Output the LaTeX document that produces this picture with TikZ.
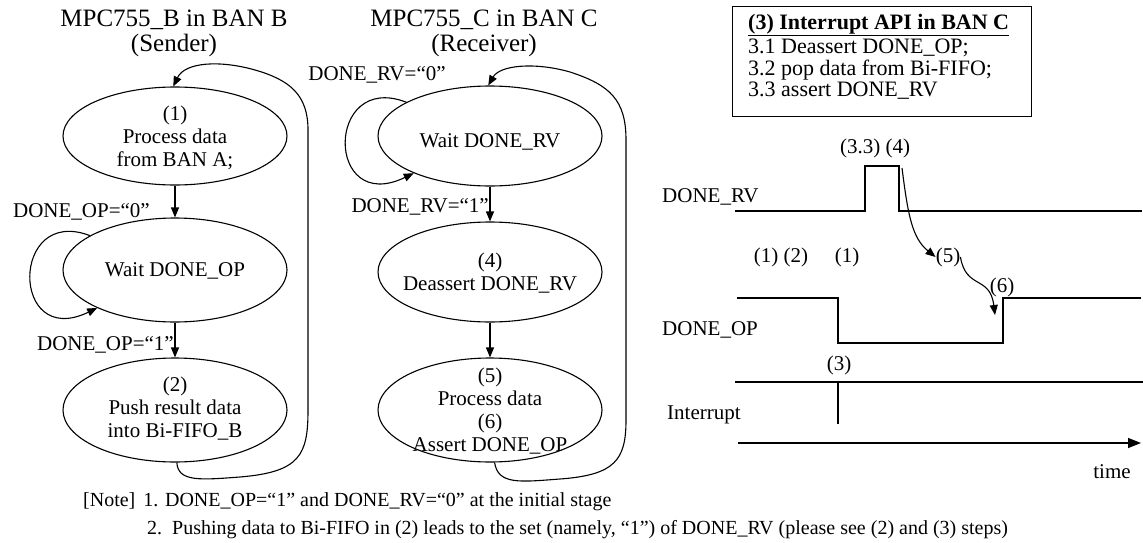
\documentclass[tikz,border=0pt]{standalone}
\usepackage{fontspec}
\setmainfont{Liberation Serif}
\usetikzlibrary{shapes.geometric,arrows.meta}
\begin{document}
\begin{tikzpicture}[x=1pt,y=-1pt,
  ell/.style={draw, ellipse, line width=1.1pt, minimum width=224pt, minimum height=100pt, inner sep=0pt},
  txt/.style={align=center, inner sep=0pt, font=\fontsize{21}{23}\selectfont},
  lbl/.style={inner sep=0pt, font=\fontsize{21}{23}\selectfont},
  ttl/.style={align=center, inner sep=0pt, font=\fontsize{25}{25}\selectfont},
  note/.style={inner sep=0pt, anchor=west, font=\fontsize{20}{22}\selectfont},
  arr/.style={line width=1.1pt, -{Triangle[length=10pt,width=8pt]}},
  wave/.style={line width=1.4pt},
]
\useasboundingbox (0,0) rectangle (1143,543);

% titles
\node[ttl] (title1) at (174,33) {MPC755\_B in BAN B\\(Sender)};
\node[ttl] (title2) at (484,33) {MPC755\_C in BAN C\\(Receiver)};

% sender states
\node[ell, minimum height=98pt] (e1) at (175,136) {};
\node[ell, minimum height=104pt] (e2) at (175,270) {};
\node[ell, minimum height=104pt] (e3) at (175,410) {};
\node[txt] (t1) at (175,138) {(1)\\Process data\\from BAN A;};
\node[txt] (t2) at (175,271) {Wait DONE\_OP};
\node[txt] (t3) at (175,409) {(2)\\Push result data\\into Bi-FIFO\_B};

% receiver states
\node[ell] (f1) at (490,136) {};
\node[ell] (f2) at (490,272) {};
\node[ell, minimum height=104pt] (f3) at (490,410) {};
\node[txt] (u1) at (490,142) {Wait DONE\_RV};
\node[txt] (u2) at (490,273) {(4)\\Deassert DONE\_RV};
\node[txt] (u3) at (490,411) {(5)\\Process data\\(6)\\Assert DONE\_OP};

% straight transitions
\draw[arr] (e1.south) -- (e2.north);
\draw[arr] (e2.south) -- (e3.north);
\draw[arr] (f1.south) -- (f2.north);
\draw[arr] (f2.south) -- (f3.north);

\node[lbl, anchor=east] (l0) at (150,212) {DONE\_OP=“0”};
\node[lbl, anchor=east] (l1) at (174,345) {DONE\_OP=“1”};
\node[lbl] (l2) at (377,75) {DONE\_RV=“0”};
\node[lbl, anchor=east] (l3) at (489,207) {DONE\_RV=“1”};

% self loops
\draw[arr] (e2.158) .. controls (10,205) and (10,350) .. (e2.206);
\draw[arr] (f1.158) .. controls (325,71) and (325,216) .. (f1.206);

% return loops
\draw[arr] (e3.-88) .. controls (178,482) and (200,480) .. (240,477)
  .. controls (300,472) and (308,455) .. (308,410) -- (308,130)
  .. controls (308,95) and (290,80) .. (255,70)
  .. controls (220,60) and (185,62) .. (e1.92);
\draw[arr] (f3.-85) .. controls (498,485) and (520,482) .. (560,479)
  .. controls (615,475) and (626,460) .. (626,420) -- (626,140)
  .. controls (626,100) and (610,85) .. (570,72)
  .. controls (535,62) and (500,65) .. (f1.92);

% interrupt box
\node[draw, line width=1.3pt, anchor=north west, minimum width=299pt, minimum height=110pt, inner sep=0pt] (box) at (732,6) {};
\node[anchor=north west, inner sep=0pt, align=left, font=\fontsize{22}{21.5}\selectfont] (boxtext) at (748,14)
  {\textbf{\underline{(3) Interrupt API in BAN C}}\\[3pt]3.1 Deassert DONE\_OP;\\3.2 pop data from Bi-FIFO;\\3.3 assert DONE\_RV};

% timing diagram
\draw[wave] (735,211) -- (865,211) -- (865,166) -- (899,166) -- (899,211) -- (1142,211);
\draw[wave] (737,298) -- (838,298) -- (838,343) -- (1003,343) -- (1003,298) -- (1141,298);
\draw[wave] (735,382) -- (1143,382);
\draw[wave] (838,382) -- (838,424);
\coordinate (ts) at (738,443);
\coordinate (te) at (1141,443);
\draw[wave, -{Triangle[length=13pt,width=10pt]}] (ts) -- (te);

\node[lbl, anchor=west] (sDR) at (662,197) {DONE\_RV};
\node[lbl, anchor=west] (sDO) at (662,330) {DONE\_OP};
\node[lbl, anchor=west] (sIN) at (667,415) {Interrupt};
\node[lbl] (a33) at (875,148) {(3.3) (4)};
\node[lbl] (a12) at (781,257) {(1) (2)};
\node[lbl] (a1) at (847,257) {(1)};
\node[lbl] (a5) at (948,257) {(5)};
\node[lbl] (a6) at (1002,287) {(6)};
\node[lbl] (a3) at (839,365) {(3)};
\node[lbl] (time) at (1112,472) {time};

\coordinate (c4) at (902,168);
\coordinate (c6) at (995,315);
\draw[arr] (c4) .. controls (908,215) and (912,238) .. (a5.west);
\draw[arr] (a5.east) .. controls (966,290) and (990,275) .. (c6);

% note
\node[note] (n1) at (83,502) {[Note]\hspace{8pt}1. DONE\_OP=“1” and DONE\_RV=“0” at the initial stage};
\node[note] (n2) at (147,530) {2.\hspace{10pt}Pushing data to Bi-FIFO in (2) leads to the set (namely, “1”) of DONE\_RV (please see (2) and (3) steps)};
\end{tikzpicture}
\end{document}
